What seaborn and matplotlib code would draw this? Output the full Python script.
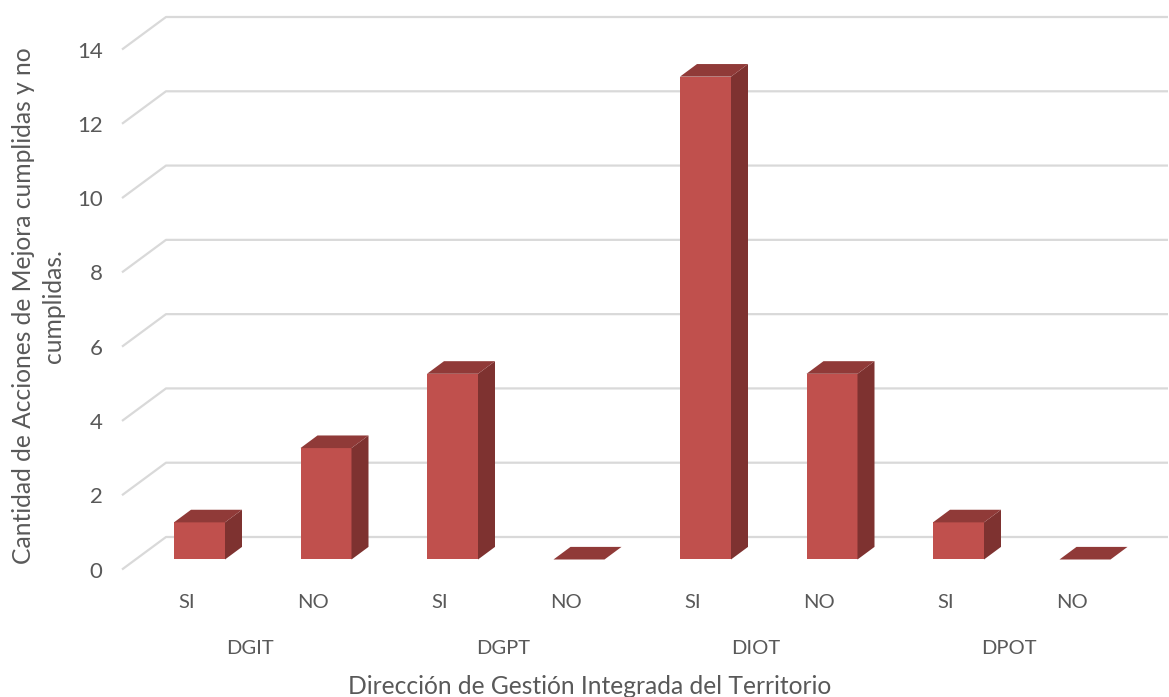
import pandas as pd
import matplotlib
matplotlib.use('Agg')
import matplotlib.pyplot as plt
import seaborn as sns
from matplotlib.patches import Polygon

# Datos del grafico
grupos = ['DGIT', 'DGPT', 'DIOT', 'DPOT']
respuestas = ['SI', 'NO']
valores = [1, 3, 5, 0, 13, 5, 1, 0]
ticks_y = [0, 2, 4, 6, 8, 10, 12, 14]

W, H = 1169, 697
PX_CAT = 126.5    # pixeles por categoria
PX_VAL = 37.14    # pixeles por unidad

# profundidad del efecto 3D, en unidades de datos
suelo = 10 / PX_VAL
prof_x, prof_y = 17 / PX_CAT, 12.6 / PX_VAL
pared_x, pared_y = 44 / PX_CAT, 32.5 / PX_VAL
frente_x = 13 / PX_CAT

ROJO = '#C0504D'
ROJO_LADO = '#7E3230'
ROJO_TOPE = '#903A38'
GRIS = '#D9D9D9'
TEXTO = '#595959'

sns.set_theme(style='white')
plt.rcParams['font.family'] = ['Lato', 'DejaVu Sans']

nombres = [f'{g} {r}' for g in grupos for r in respuestas]
df = pd.DataFrame({'accion': nombres, 'cantidad': valores})

fig = plt.figure(figsize=(W / 100, H / 100), dpi=100)
ax = fig.add_axes([122 / W, 1 - 569.5 / H, 1012 / W, 520 / H])

sns.barplot(data=df, x='accion', y='cantidad', color=ROJO, saturation=1,
            width=51 / PX_CAT, errorbar=None, linewidth=0, zorder=3, ax=ax)

ax.set_xlim(-77.5 / PX_CAT, 8 - 77.5 / PX_CAT)
ax.set_ylim(0, 14)
sns.despine(ax=ax, left=True, bottom=True)

# pared del fondo: diagonal + linea horizontal
x_ini = ax.get_xlim()[0]
for v in ticks_y:
    ax.plot([x_ini, x_ini + pared_x, x_ini + 1046 / PX_CAT + pared_x - 44 / PX_CAT],
            [v, v + pared_y, v + pared_y],
            color=GRIS, lw=1.6, clip_on=False, zorder=1, solid_capstyle='butt')

# caras lateral y superior a partir de cada barra
for bar in ax.patches[:len(valores)]:
    alto = bar.get_height()
    bar.set_y(suelo)
    x0, x1 = bar.get_x(), bar.get_x() + bar.get_width()
    y0, y1 = suelo, suelo + alto
    if alto > 0:
        ax.add_patch(Polygon([(x1, y0), (x1 + prof_x, y0 + prof_y),
                              (x1 + prof_x, y1 + prof_y), (x1, y1)],
                             fc=ROJO_LADO, ec='none', zorder=3))
    ax.add_patch(Polygon([(x0, y1), (x0 + prof_x, y1 + prof_y),
                          (x1 + prof_x, y1 + prof_y), (x1, y1)],
                         fc=ROJO_TOPE, ec='none', zorder=3))

ax.set_yticks(ticks_y)
ax.set_xticks([i - frente_x for i in range(len(nombres))])
ax.set_xticklabels(respuestas * len(grupos))
ax.tick_params(axis='x', length=0, pad=17.5, labelsize=14.5, labelcolor=TEXTO)
ax.tick_params(axis='y', length=0, pad=14, labelsize=16, labelcolor=TEXTO)
for lab in ax.get_yticklabels():
    lab.set_verticalalignment('center_baseline')

# etiquetas de grupo debajo de SI / NO
trans = ax.get_xaxis_transform()
for i, g in enumerate(grupos):
    ax.text(2 * i + 0.5 - frente_x, -79 / 520, g, transform=trans,
            ha='center', va='center', fontsize=14.5, color=TEXTO)

ax.set_xlabel('Dirección de Gestión Integrada del Territorio',
              fontsize=17.7, color=TEXTO)
ax.xaxis.set_label_coords(467.5 / 1012, -117 / 520)
ax.xaxis.label.set_verticalalignment('center')
ax.set_ylabel('Cantidad de Acciones de Mejora cumplidas y no\ncumplidas.',
              fontsize=17.7, color=TEXTO, linespacing=1.35)
ax.yaxis.label.set_verticalalignment('center')
ax.yaxis.set_label_coords(-83.5 / 1012, 263.5 / 520)

fig.savefig('out.png', dpi=100)
